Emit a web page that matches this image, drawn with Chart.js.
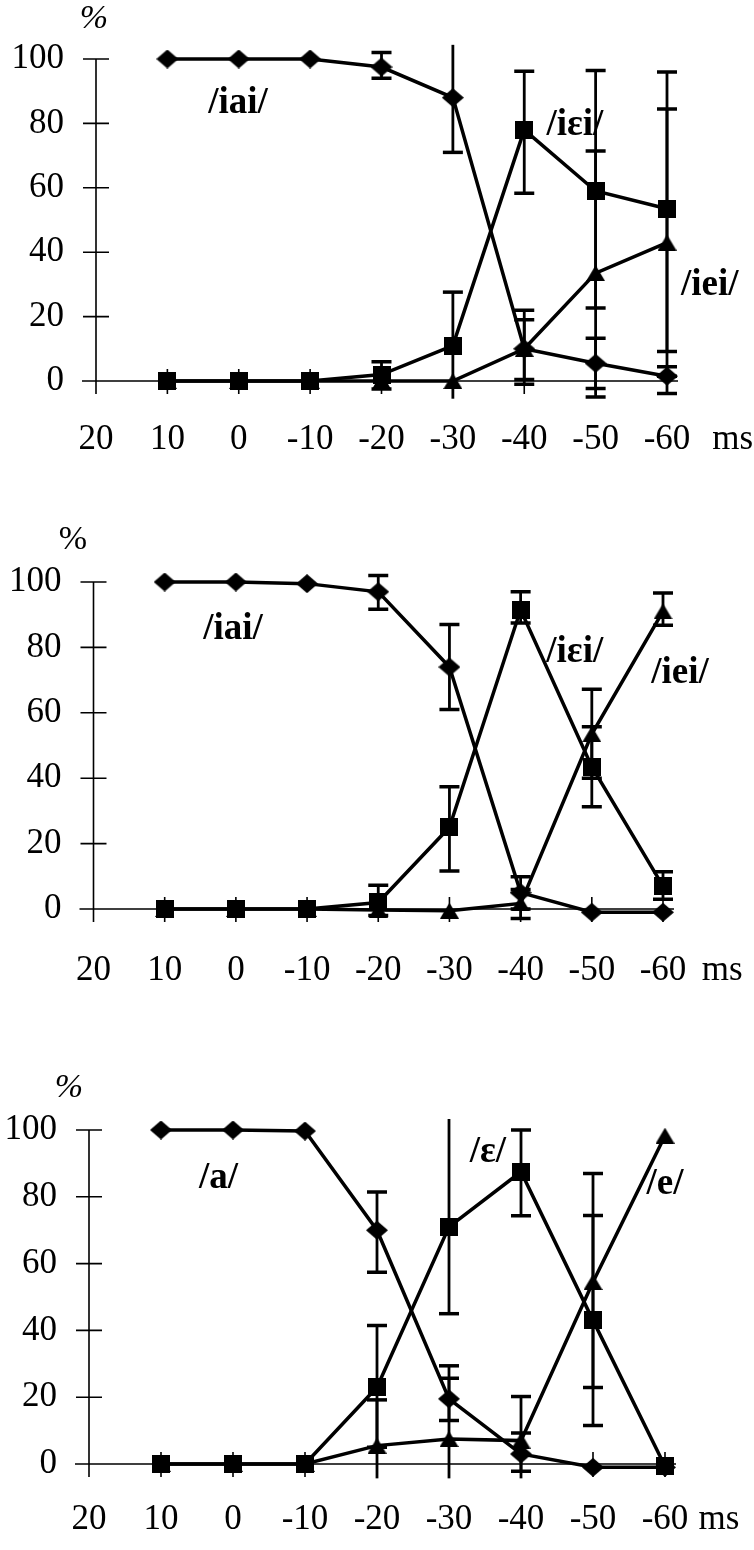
<!DOCTYPE html>
<html><head><meta charset="utf-8">
<script src="https://cdn.jsdelivr.net/npm/chart.js@4.4.1/dist/chart.umd.min.js"></script>
<style>
html,body{margin:0;padding:0;background:#fff;}
#wrap{position:relative;width:754px;height:1550px;overflow:hidden;}
canvas{position:absolute;left:0;}
</style></head><body>
<div id="wrap">
<canvas id="c1"></canvas><canvas id="c2"></canvas><canvas id="c3"></canvas>
</div>
<script>
// ---------- DATA ----------
const categories = ['20','10','0','-10','-20','-30','-40','-50','-60'];
const yTickValues = [0,20,40,60,80,100];

// Panel 1 : /iai/ (diamond), /iεi/ (square), /iei/ (triangle)
const p1Diamond   = [null,100,100,100,97.5,88,10,5.5,1.5];
const p1DiamondLo = [null,null,null,null,94,71,-1,-2.3,-3.9];
const p1DiamondHi = [null,null,null,null,102,106,22,13.3,4.4];
const p1Square    = [null,0,0,0,2,11,78,59,53.5];
const p1SquareLo  = [null,null,null,null,-2.5,-6,58.3,22.7,9.2];
const p1SquareHi  = [null,null,null,null,6,27.6,96.2,96.4,96];
const p1Triangle  = [null,0,0,0,0,0,10,33.5,43];
const p1TriangleLo= [null,null,null,null,null,null,0.5,-5,1.5];
const p1TriangleHi= [null,null,null,null,null,null,19,71.4,84.5];

// Panel 2
const p2Diamond   = [null,100,100,99.5,97,74,5,-1,-1];
const p2DiamondLo = [null,null,null,null,91.7,61,0,null,null];
const p2DiamondHi = [null,null,null,null,102,87,9.9,null,null];
const p2Square    = [null,0,0,0,2,25,91.5,43.5,7];
const p2SquareLo  = [null,null,null,null,-2,11.6,87.5,31.3,3];
const p2SquareHi  = [null,null,null,null,7.3,37.4,97,55.7,11.4];
const p2Triangle  = [null,0,0,0,-0.3,-0.5,1.7,53.5,91];
const p2TriangleLo= [null,null,null,null,null,null,-2.9,40,86.8];
const p2TriangleHi= [null,null,null,null,null,null,6,67.2,96.6];

// Panel 3 : /a/ (diamond), /ε/ (square), /e/ (triangle)
const p3Diamond   = [null,100,100,99.7,70,19.5,3,-1,-1];
const p3DiamondLo = [null,null,null,null,57.4,13,-2.2,null,null];
const p3DiamondHi = [null,null,null,null,81.4,25.7,9.3,null,null];
const p3Square    = [null,0,0,0,23,71,87.5,43,-0.7];
const p3SquareLo  = [null,null,null,null,5,45,74.3,11.5,null];
const p3SquareHi  = [null,null,null,null,41.5,110,100,74.4,null];
const p3Triangle  = [null,0,0,0,5.5,7.5,7,54.5,98.3];
const p3TriangleLo= [null,null,null,null,-8.6,-14,-6,22.9,null];
const p3TriangleHi= [null,null,null,null,19.2,29.4,20.2,87,null];

// ---------- STYLE / LAYOUT ----------
const SERIF = "'Liberation Serif','Times New Roman',serif";

function shapeImg(kind, w, h) {
  const c = document.createElement('canvas');
  c.width = w; c.height = h;
  const g = c.getContext('2d');
  g.fillStyle = '#000';
  g.beginPath();
  if (kind === 'diamond') {
    g.moveTo(w/2,0); g.lineTo(w,h/2); g.lineTo(w/2,h); g.lineTo(0,h/2);
  } else if (kind === 'square') {
    g.rect(0,0,w,h);
  } else {
    g.moveTo(w/2,0); g.lineTo(w,h); g.lineTo(0,h);
  }
  g.closePath(); g.fill();
  return c;
}
const DIAMOND = shapeImg('diamond', 22, 19);
const SQUARE = shapeImg('square', 18, 18);
const TRIANGLE = shapeImg('triangle', 19, 16);

const decor = {
  id: 'decor',
  beforeDatasetsDraw(chart, args, o) {
    const ctx = chart.ctx, x = chart.scales.x, y = chart.scales.y;
    const ax = x.getPixelForValue(0);
    const y0 = y.getPixelForValue(0), y100 = y.getPixelForValue(100);
    const xr = x.getPixelForValue(categories.length - 1);
    ctx.save();
    ctx.strokeStyle = '#000';
    ctx.lineWidth = 1.6;
    ctx.beginPath();
    ctx.moveTo(ax, y100); ctx.lineTo(ax, y0 + 13);
    yTickValues.forEach(v => { const py = y.getPixelForValue(v); ctx.moveTo(ax - 13, py); ctx.lineTo(ax + 13, py); });
    ctx.moveTo(ax - 14, y0); ctx.lineTo(xr + 11, y0);
    for (let i = 1; i < categories.length; i++) {
      const px = x.getPixelForValue(i);
      ctx.moveTo(px, y0 - 12); ctx.lineTo(px, y0 + 13);
    }
    ctx.stroke();
    // error bars
    const [cmin, cmax] = o.clip;
    o.errors.forEach(e => {
      for (let i = 0; i < e.lo.length; i++) {
        if (e.lo[i] == null || e.hi[i] == null) continue;
        const px = x.getPixelForValue(i);
        const a = Math.max(e.lo[i], cmin), b = Math.min(e.hi[i], cmax);
        ctx.lineWidth = 2.8;
        ctx.beginPath();
        ctx.moveTo(px, y.getPixelForValue(a)); ctx.lineTo(px, y.getPixelForValue(b));
        ctx.stroke();
        ctx.lineWidth = 3.5;
        ctx.beginPath();
        if (e.lo[i] >= cmin) { const py = y.getPixelForValue(e.lo[i]); ctx.moveTo(px - 10, py); ctx.lineTo(px + 10, py); }
        if (e.hi[i] <= cmax) { const py = y.getPixelForValue(e.hi[i]); ctx.moveTo(px - 10, py); ctx.lineTo(px + 10, py); }
        ctx.stroke();
      }
    });
    ctx.restore();
  },
  afterDatasetsDraw(chart, args, o) {
    const ctx = chart.ctx, x = chart.scales.x, y = chart.scales.y;
    ctx.save();
    ctx.fillStyle = '#000';
    ctx.textAlign = 'center';
    ctx.textBaseline = 'middle';
    o.texts.forEach(t => {
      ctx.font = t.font;
      ctx.fillText(t.text, x.getPixelForValue(t.xi), y.getPixelForValue(t.v));
    });
    ctx.restore();
  }
};

function ds(data, img) {
  return {
    data, borderColor: '#000', backgroundColor: '#000', borderWidth: 3.5,
    pointStyle: img, pointRadius: 10, pointHoverRadius: 10,
    tension: 0, clip: false, spanGaps: false
  };
}

function makePanel(id, geo, series, errors, texts) {
  const cv = document.getElementById(id);
  cv.style.top = geo.canvasTop + 'px';
  cv.width = 754; cv.height = geo.canvasH;
  cv.style.width = '754px'; cv.style.height = geo.canvasH + 'px';
  new Chart(cv, {
    type: 'line',
    data: { labels: categories, datasets: series },
    options: {
      responsive: false, animation: false, devicePixelRatio: 1,
      events: [],
      layout: { padding: { top: geo.top, right: 754 - geo.right, left: 0, bottom: 0 } },
      plugins: {
        legend: { display: false }, tooltip: { enabled: false },
        decor: { errors, texts, clip: geo.clip }
      },
      scales: {
        x: {
          type: 'category', offset: false,
          grid: { display: false, drawTicks: false },
          border: { display: false },
          ticks: { color: '#000', font: { family: SERIF, size: 35 }, padding: geo.xPad, maxRotation: 0, autoSkip: false },
          afterFit: s => { s.height = geo.canvasH - geo.bottom; }
        },
        y: {
          min: 0, max: 100,
          grid: { display: false, drawTicks: false },
          border: { display: false },
          afterBuildTicks: s => { s.ticks = yTickValues.map(v => ({ value: v })); },
          ticks: { color: '#000', font: { family: SERIF, size: 35 }, padding: 32 },
          afterFit: s => { s.width = geo.left; }
        }
      }
    },
    plugins: [decor]
  });
}

const BOLD = "bold 37px " + SERIF;
const TICKF = "35px " + SERIF;

makePanel('c1',
  { canvasTop: 0, canvasH: 500, top: 59, bottom: 381, left: 96, right: 667, xPad: 38, clip: [-5.5, 104.4] },
  [ds(p1Diamond, DIAMOND), ds(p1Square, SQUARE), ds(p1Triangle, TRIANGLE)],
  [ {lo: p1DiamondLo, hi: p1DiamondHi}, {lo: p1SquareLo, hi: p1SquareHi}, {lo: p1TriangleLo, hi: p1TriangleHi} ],
  [ {text: '%', xi: -0.03, v: 112.4, font: "italic 34px " + SERIF},
    {text: '/iai/', xi: 1.99, v: 86.3, font: BOLD},
    {text: '/iεi/', xi: 6.71, v: 79.5, font: BOLD},
    {text: '/iei/', xi: 8.6, v: 29.8, font: BOLD},
    {text: 'ms', xi: 8.92, v: -18.3, font: TICKF} ]
);

makePanel('c2',
  { canvasTop: 500, canvasH: 520, top: 82, bottom: 409, left: 93.5, right: 663, xPad: 41, clip: [-6, 104] },
  [ds(p2Diamond, DIAMOND), ds(p2Square, SQUARE), ds(p2Triangle, TRIANGLE)],
  [ {lo: p2DiamondLo, hi: p2DiamondHi}, {lo: p2SquareLo, hi: p2SquareHi}, {lo: p2TriangleLo, hi: p2TriangleHi} ],
  [ {text: '%', xi: -0.29, v: 112.8, font: "34px " + SERIF},
    {text: '/iai/', xi: 1.96, v: 85.6, font: BOLD},
    {text: '/iεi/', xi: 6.76, v: 78.6, font: BOLD},
    {text: '/iei/', xi: 8.24, v: 71.9, font: BOLD},
    {text: 'ms', xi: 8.83, v: -19, font: TICKF} ]
);

makePanel('c3',
  { canvasTop: 1020, canvasH: 530, top: 110, bottom: 444, left: 89, right: 665, xPad: 35, clip: [-4.3, 103.3] },
  [ds(p3Diamond, DIAMOND), ds(p3Square, SQUARE), ds(p3Triangle, TRIANGLE)],
  [ {lo: p3DiamondLo, hi: p3DiamondHi}, {lo: p3SquareLo, hi: p3SquareHi}, {lo: p3TriangleLo, hi: p3TriangleHi} ],
  [ {text: '%', xi: -0.28, v: 112.6, font: "italic 34px " + SERIF},
    {text: '/a/', xi: 1.8, v: 85.6, font: BOLD},
    {text: '/ε/', xi: 5.54, v: 93.4, font: BOLD},
    {text: '/e/', xi: 8.0, v: 83.8, font: BOLD},
    {text: 'ms', xi: 8.75, v: -16.8, font: TICKF} ]
);
</script>
</body></html>
